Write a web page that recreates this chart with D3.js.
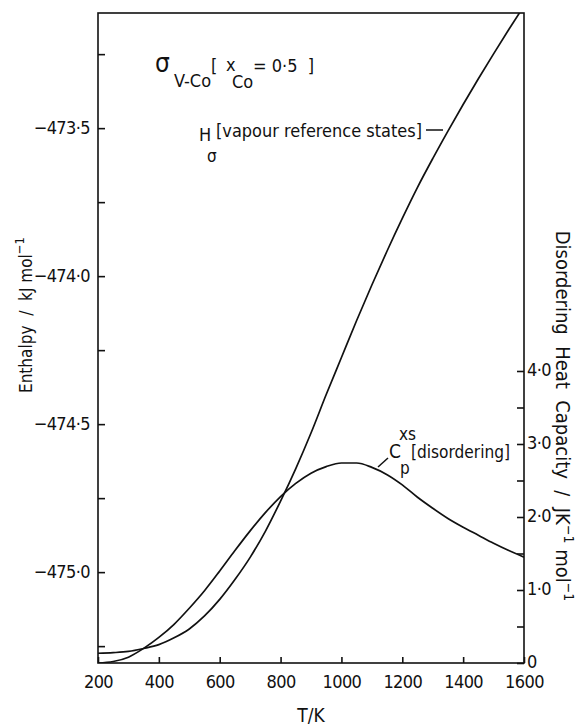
<!DOCTYPE html>
<html>
<head>
<meta charset="utf-8">
<script src="https://cdn.jsdelivr.net/npm/d3@7"></script>
<style>
  html, body { margin: 0; padding: 0; background: #fff; }
  svg { display: block; }
  text { font-family: "DejaVu Sans Condensed", "Liberation Sans Narrow", "DejaVu Sans", sans-serif; font-stretch: condensed; fill: #111; white-space: pre; }
</style>
</head>
<body>
<svg id="chart" width="584" height="725"></svg>
<script>
// ---------------- data ----------------
const temperature = [200,250,300,350,400,450,500,550,600,650,700,750,800,850,900,950,1000,1050,1100,1150,1200,1250,1300,1350,1400,1450,1500,1550,1600];
const enthalpy = [-475.274,-475.272,-475.268,-475.258,-475.245,-475.222,-475.192,-475.148,-475.092,-475.025,-474.950,-474.862,-474.760,-474.650,-474.530,-474.400,-474.275,-474.150,-474.030,-473.915,-473.805,-473.700,-473.603,-473.510,-473.420,-473.333,-473.249,-473.167,-473.087];
const cpDisordering = [0.00,0.02,0.08,0.20,0.35,0.53,0.75,0.99,1.26,1.54,1.81,2.06,2.28,2.46,2.60,2.69,2.74,2.74,2.68,2.58,2.44,2.27,2.12,1.98,1.86,1.75,1.64,1.54,1.45];

const xTicks = [200,400,600,800,1000,1200,1400,1600];
const hMajorTicks = [-473.5,-474.0,-474.5,-475.0];
const hMinorTicks = [-473.25,-473.75,-474.25,-474.75,-475.25];
const cpMajorTicks = [0,1,2,3,4];
const cpMinorTicks = [0.5,1.5,2.5,3.5];
const xDomain = [200,1600];
const hDomain = [-475.307,-473.111];
const cpDomain = [0,8.904];

// ---------------- layout ----------------
const L = 98, R = 524, T = 13, B = 663;
const svg = d3.select("#chart");

const x = d3.scaleLinear().domain(xDomain).range([L, R]);
const yH = d3.scaleLinear().domain(hDomain).range([B, T]);
const yCp = d3.scaleLinear().domain(cpDomain).range([B, T]);

const fmt = v => {
  if (v === 0) return "0";
  let s = Math.abs(v).toFixed(1).replace(".", "\u00B7");
  return (v < 0 ? "\u2212" : "") + s;
};

svg.append("defs").append("clipPath").attr("id","plotclip")
  .append("rect").attr("x", L).attr("y", T).attr("width", R - L).attr("height", B - T);

const stroke = "#111";

// axes
const gLeft = svg.append("g").attr("transform", `translate(${L},0)`);
gLeft.call(d3.axisLeft(yH).tickValues(hMajorTicks).tickFormat(fmt).tickSizeInner(-7).tickSizeOuter(0).tickPadding(8));
const gLeftMinor = svg.append("g").attr("transform", `translate(${L},0)`);
gLeftMinor.call(d3.axisLeft(yH).tickValues(hMinorTicks).tickFormat("").tickSizeInner(-7).tickSizeOuter(0));

const gBottom = svg.append("g").attr("transform", `translate(0,${B})`);
gBottom.call(d3.axisBottom(x).tickValues(xTicks).tickFormat(d3.format("d")).tickSizeInner(-6).tickSizeOuter(0).tickPadding(12));

const gRight = svg.append("g").attr("transform", `translate(${R},0)`);
gRight.call(d3.axisRight(yCp).tickValues(cpMajorTicks).tickFormat(fmt).tickSizeInner(-7).tickSizeOuter(0).tickPadding(3));
const gRightMinor = svg.append("g").attr("transform", `translate(${R},0)`);
gRightMinor.call(d3.axisRight(yCp).tickValues(cpMinorTicks).tickFormat("").tickSizeInner(-7).tickSizeOuter(0));

svg.selectAll(".domain").remove();
svg.selectAll(".tick line").attr("stroke", stroke).attr("stroke-width", 1.6);
svg.selectAll(".tick text").attr("font-size", 18).attr("font-family", null).attr("fill", "#111")
  .attr("letter-spacing", -0.6);
gRight.selectAll(".tick text").attr("dy", "0.25em");

// frame
svg.append("rect").attr("x", L).attr("y", T).attr("width", R - L).attr("height", B - T)
  .attr("fill", "none").attr("stroke", stroke).attr("stroke-width", 1.6);

// lines
const rowsH = temperature.map((t, i) => ({t, v: enthalpy[i]}));
const rowsCp = temperature.map((t, i) => ({t, v: cpDisordering[i]}));

svg.append("path").datum(rowsH)
  .attr("clip-path", "url(#plotclip)")
  .attr("fill", "none").attr("stroke", stroke).attr("stroke-width", 1.7)
  .attr("d", d3.line().x(d => x(d.t)).y(d => yH(d.v)).curve(d3.curveMonotoneX));

svg.append("path").datum(rowsCp)
  .attr("clip-path", "url(#plotclip)")
  .attr("fill", "none").attr("stroke", stroke).attr("stroke-width", 1.7)
  .attr("d", d3.line().x(d => x(d.t)).y(d => yCp(d.v)).curve(d3.curveMonotoneX));

// axis titles
svg.append("text").attr("text-anchor", "middle").attr("font-size", 19)
  .attr("transform", `translate(${(L + R) / 2},722)`).text("T/K");

const lt = svg.append("text").attr("font-size", 17).attr("text-anchor", "middle")
  .attr("transform", "translate(32,315) rotate(-90)");
lt.append("tspan").text("Enthalpy\u00A0\u00A0/\u00A0\u00A0kJ mol");
lt.append("tspan").attr("dy", -8).attr("font-size", 13).text("\u22121");

const rt = svg.append("text").attr("font-size", 20).attr("text-anchor", "middle")
  .attr("transform", "translate(556,416) rotate(90)");
rt.append("tspan").text("Disordering\u00A0\u00A0Heat\u00A0\u00A0Capacity\u00A0\u00A0/\u00A0\u00A0JK");
rt.append("tspan").attr("dy", -8).attr("font-size", 14).text("\u22121");
rt.append("tspan").attr("dy", 8).text(" mol");
rt.append("tspan").attr("dy", -8).attr("font-size", 14).text("\u22121");

// title annotation
const ta = svg.append("g");
ta.append("text").attr("x", 155).attr("y", 72).attr("font-size", 26).text("\u03C3");
ta.append("text").attr("x", 174).attr("y", 87).attr("font-size", 18).text("V-Co");
ta.append("text").attr("x", 211).attr("y", 72).attr("font-size", 18).text("[");
ta.append("text").attr("x", 226).attr("y", 71).attr("font-size", 18).text("x");
ta.append("text").attr("x", 232).attr("y", 88).attr("font-size", 18).text("Co");
ta.append("text").attr("x", 253).attr("y", 72).attr("font-size", 18).text("= 0\u00B75\u00A0\u00A0]");

// H label
const hl = svg.append("g");
hl.append("text").attr("x", 199).attr("y", 141).attr("font-size", 18).text("H");
hl.append("text").attr("x", 207).attr("y", 162).attr("font-size", 17).text("\u03C3");
hl.append("text").attr("x", 216).attr("y", 137).attr("font-size", 18)
  .attr("textLength", 206).attr("lengthAdjust", "spacingAndGlyphs").text("[vapour reference states]");
hl.append("line").attr("x1", 426).attr("y1", 130).attr("x2", 443).attr("y2", 130)
  .attr("stroke", stroke).attr("stroke-width", 1.5);

// Cp label
const cl = svg.append("g");
cl.append("text").attr("x", 389).attr("y", 458).attr("font-size", 19).text("C");
cl.append("text").attr("x", 400).attr("y", 474).attr("font-size", 17).text("p");
cl.append("text").attr("x", 399).attr("y", 440).attr("font-size", 17).text("xs");
cl.append("text").attr("x", 411).attr("y", 458).attr("font-size", 18)
  .attr("textLength", 99).attr("lengthAdjust", "spacingAndGlyphs").text("[disordering]");
cl.append("line").attr("x1", 378).attr("y1", 467).attr("x2", 388).attr("y2", 458)
  .attr("stroke", stroke).attr("stroke-width", 1.5);
</script>
</body>
</html>
